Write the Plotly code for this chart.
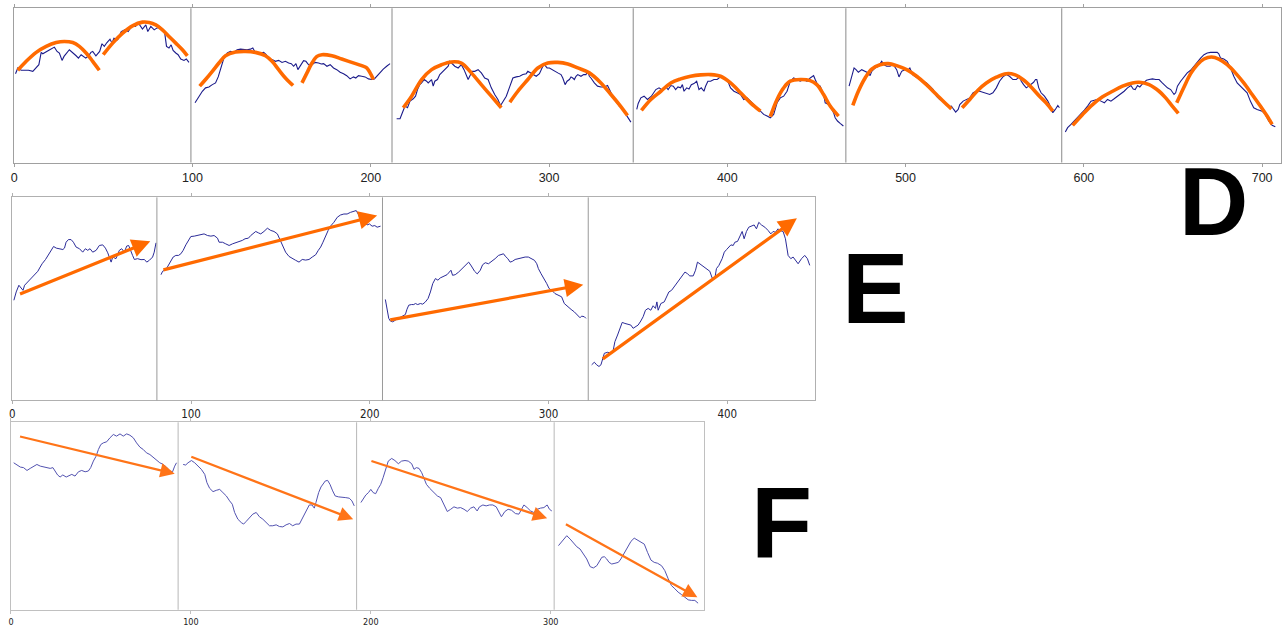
import plotly.graph_objects as go

# ---------------- Panel D : (x, y) points ----------------
D_TICKS = [0, 100, 200, 300, 400, 500, 600, 700]
D_XMAX = 710.6
D_DIVIDERS = [99.1, 211.9, 347.2, 466.5, 587.6]

D_SEG1 = [(0.7,57.6),(2.0,61.3),(3.9,59.8),(8.0,59.8),(10.4,59.1),(11.9,61.3),(13.8,63.4),(15.1,71.4),(16.0,70.5),(19.9,73.1),(22.5,74.8),(24.0,72.0),(25.3,71.0),(26.8,66.2),(27.9,68.8),(30.9,73.1),(32.1,72.0),(34.7,69.2),(36.0,67.7),(37.5,69.9),(40.1,67.7),(41.7,69.2),(43.0,71.4),(44.0,72.0),(45.8,69.2),(47.9,72.0),(49.2,77.0),(50.5,75.3),(52.0,77.8),(53.7,80.0),(54.8,77.4),(55.9,80.6),(58.0,79.6),(60.0,84.9),(61.9,86.0),(63.9,84.9),(66.0,88.6),(68.0,88.2),(69.7,90.3),(71.9,86.5),(73.8,89.2),(74.9,84.9),(76.6,88.2),(78.5,86.0),(79.9,87.1),(81.6,88.2),(83.1,85.6),(84.4,83.9),(85.4,75.3),(86.8,74.2),(88.0,76.3),(89.1,72.7),(90.6,71.0),(91.9,69.9),(93.4,67.1),(95.2,66.2),(96.5,67.1),(98.0,64.9)]
D_SEG2 = [(101.4,38.7),(103.6,43.0),(105.5,46.2),(107.3,48.4),(109.2,49.0),(111.1,50.5),(112.9,51.6),(114.4,55.5),(115.7,60.2),(117.6,67.7),(119.5,71.0),(121.3,72.0),(123.2,71.4),(125.0,73.1),(126.9,73.5),(128.8,73.1),(130.6,73.1),(132.5,73.5),(133.8,74.2),(134.9,72.0),(136.2,71.4),(138.1,71.0),(139.9,71.4),(141.3,69.9),(142.7,67.1),(144.6,66.7),(146.5,65.6),(148.3,66.2),(150.2,64.9),(152.1,65.6),(153.9,64.5),(155.4,64.1),(156.7,62.4),(158.0,64.1),(159.1,60.2),(160.5,62.4),(162.3,66.0),(163.6,65.6),(165.1,63.4),(167.0,63.4),(168.8,64.9),(170.7,64.5),(172.2,63.9),(173.5,64.1),(175.4,62.4),(177.2,63.4),(179.1,61.3),(180.9,60.2),(182.8,58.5),(184.7,57.6),(186.5,56.3),(188.4,54.2),(190.3,55.5),(191.6,54.8),(193.1,56.3),(194.9,55.9),(196.8,55.5),(198.7,54.2),(200.5,53.8),(202.0,54.2),(203.3,55.9),(205.2,58.5),(207.0,60.6),(208.9,62.4),(210.8,64.1)]
D_SEG3 = [(214.5,28.4),(216.4,28.4),(217.7,32.3),(219.2,36.6),(220.6,35.5),(222.0,39.8),(223.8,41.3),(225.1,43.0),(226.2,47.3),(227.5,50.5),(228.5,51.6),(230.0,53.8),(231.3,52.7),(232.2,51.6),(234.1,53.8),(235.0,49.5),(235.9,52.7),(237.4,53.8),(238.7,57.0),(240.6,59.1),(242.5,61.3),(243.4,62.4),(244.3,65.6),(245.2,64.5),(246.2,63.4),(247.1,62.4),(249.0,61.3),(250.8,63.4),(252.3,60.2),(253.6,57.0),(254.6,53.8),(255.5,55.9),(256.8,59.1),(258.3,59.1),(260.2,60.2),(262.0,58.1),(263.9,54.8),(265.8,53.8),(267.6,48.4),(269.5,44.1),(271.3,40.9),(272.8,37.0),(274.1,39.8),(276.0,43.0),(277.9,49.0),(279.7,54.8),(281.6,55.5),(283.5,55.9),(285.3,57.0),(287.2,57.6),(288.1,59.1),(289.6,58.1),(290.9,57.0),(292.8,55.9),(294.6,57.6),(296.5,62.4),(297.4,63.4),(298.9,61.3),(300.2,61.3),(302.1,60.2),(303.4,59.1),(304.9,58.1),(306.7,57.0),(307.7,54.8),(309.0,50.5),(310.1,52.7),(311.4,53.8),(312.3,55.5),(313.3,54.8),(314.2,53.8),(315.1,55.9),(316.1,57.0),(317.9,55.9),(319.4,57.0),(320.7,57.0),(321.7,59.1),(322.6,55.9),(323.5,54.8),(325.4,51.6),(327.2,49.5),(329.1,49.0),(331.0,49.0),(332.8,49.9),(333.8,47.3),(335.1,44.1),(336.6,40.9),(338.1,38.7),(339.4,36.6),(340.7,35.5),(341.8,34.4),(343.1,31.2),(344.4,29.0),(345.9,26.2)]
D_SEG4 = [(349.2,34.4),(350.0,38.3),(351.5,41.9),(353.3,43.0),(355.2,40.9),(357.4,43.0),(359.9,47.3),(361.7,48.4),(363.6,46.9),(365.5,49.0),(366.8,47.3),(368.3,49.9),(369.7,49.5),(371.0,47.3),(372.3,49.0),(373.8,48.4),(374.8,50.5),(375.7,46.2),(377.2,48.4),(378.5,47.7),(379.8,50.5),(381.3,51.2),(382.8,52.7),(384.1,47.3),(385.4,48.4),(386.9,46.2),(387.8,49.5),(389.1,52.7),(390.6,52.7),(392.5,53.8),(394.3,53.8),(396.2,55.5),(398.1,54.8),(399.9,53.8),(401.8,48.4),(403.7,46.2),(405.5,45.2),(407.4,44.1),(409.2,40.9),(411.1,41.9),(413.0,39.8),(414.8,37.6),(416.7,35.5),(418.6,33.3),(420.4,31.2),(422.3,30.1),(424.1,29.0),(426.0,31.2),(427.9,38.7),(429.7,41.9),(431.6,43.0),(433.5,46.2),(435.3,52.7),(437.2,54.8),(439.1,53.8),(440.9,52.7),(442.8,53.8),(444.7,52.7),(446.5,54.8),(448.4,56.3),(449.3,53.8),(450.6,50.5),(452.1,49.5),(454.0,44.1),(454.9,38.7),(456.8,37.6),(458.1,35.5),(459.6,32.3),(460.5,29.0),(461.8,26.9),(463.3,25.4),(465.1,23.7)]
D_SEG5 = [(468.3,49.5),(469.2,53.8),(470.4,59.1),(471.1,61.3),(472.2,60.2),(473.5,58.5),(475.4,60.2),(477.3,59.1),(479.1,58.1),(480.1,56.3),(481.0,59.1),(482.9,61.3),(484.7,62.4),(486.6,65.6),(487.9,63.4),(489.4,62.4),(491.2,62.4),(493.1,63.4),(495.0,60.2),(496.3,55.5),(497.8,59.1),(499.6,60.2),(501.5,60.2),(502.4,61.3),(503.9,57.0),(505.2,55.9),(506.5,54.8),(508.0,53.8),(509.9,52.7),(511.7,51.6),(513.6,49.5),(515.5,47.3),(517.3,43.0),(519.2,40.9),(521.1,39.8),(522.9,37.0),(524.4,36.1),(525.7,36.6),(527.0,34.4),(528.1,32.7),(529.5,34.4),(530.4,37.6),(532.3,39.8),(534.1,40.9),(536.0,41.9),(537.9,45.2),(539.7,46.2),(541.6,46.2),(543.4,45.6),(545.3,45.2),(547.2,44.1),(549.0,45.2),(550.9,48.4),(552.7,52.7),(554.6,55.5),(556.5,57.0),(558.3,55.9),(560.2,53.8),(562.1,53.8),(563.9,55.9),(564.9,52.7),(566.2,50.5),(567.7,48.4),(569.1,49.5),(570.4,50.5),(571.8,52.0),(572.9,53.8),(573.6,53.8),(574.7,48.4),(576.0,45.2),(577.9,43.0),(579.8,39.8),(581.6,35.5),(582.6,32.3),(584.0,34.4),(585.4,37.0),(586.3,35.5)]
D_SEG6 = [(589.6,19.8),(590.9,22.6),(592.8,24.7),(594.7,26.9),(596.5,29.0),(598.4,31.2),(600.3,34.0),(602.1,36.6),(604.0,39.8),(605.9,40.4),(607.7,40.9),(609.6,39.8),(611.5,38.7),(613.3,40.9),(615.2,39.8),(617.0,41.3),(618.9,43.0),(620.8,44.1),(622.6,46.2),(624.5,48.4),(626.4,49.9),(627.7,47.7),(628.8,47.3),(630.1,49.9),(631.4,49.0),(632.5,50.5),(633.8,51.6),(635.1,53.3),(636.6,53.8),(638.5,54.2),(640.3,53.8),(642.2,53.8),(643.7,52.0),(645.0,50.5),(646.9,48.4),(648.7,47.3),(650.6,44.1),(651.5,45.2),(652.5,49.5),(654.3,52.7),(656.2,55.5),(658.0,58.1),(659.9,59.8),(661.8,62.4),(663.6,65.6),(665.5,67.7),(667.4,69.9),(669.2,71.0),(671.1,71.4),(673.0,71.4),(674.8,71.4),(675.7,70.5),(676.7,67.7),(678.5,67.1),(680.4,65.6),(682.3,61.3),(684.1,55.9),(686.0,51.6),(687.8,49.5),(689.7,47.3),(691.6,45.2),(693.4,39.8),(695.3,35.5),(697.2,34.4),(700.0,33.3),(701.8,31.2),(703.7,26.9),(705.6,24.1),(707.4,23.2)]

D_ARC1 = [(2.0,59.8),(6.7,65.6),(12.3,71.4),(17.9,75.3),(23.5,77.8),(28.1,78.5),(32.8,77.8),(36.5,75.3),(40.3,71.0),(44.0,65.6),(47.7,59.8)]
D_ARC2 = [(49.9,69.9),(55.2,77.4),(60.8,83.9),(66.3,88.6),(71.9,91.0),(75.7,90.8),(79.4,89.2),(83.1,86.0),(86.8,81.7),(90.6,77.4),(94.3,73.1),(97.1,69.2)]
D_ARC3 = [(104.0,49.5),(107.3,53.8),(111.1,59.1),(114.8,64.5),(118.5,69.2),(124.1,71.6),(129.7,72.0),(135.3,71.4),(140.9,69.2),(144.6,65.6),(148.3,60.2),(152.1,54.8),(156.4,49.9)]
D_ARC4 = [(161.4,51.6),(164.2,58.1),(167.0,64.5),(169.8,68.8),(172.6,69.9),(178.2,69.2),(183.7,67.1),(189.3,64.9),(194.9,62.8),(197.7,61.3),(199.6,58.1),(201.5,53.8)]
D_ARC5 = [(218.2,35.5),(222.9,43.0),(228.5,53.8),(234.1,60.2),(239.7,63.4),(245.2,65.2),(250.8,64.5),(256.4,58.1),(262.0,50.5),(267.6,43.0),(273.2,35.5)]
D_ARC6 = [(278.0,39.1),(282.5,46.2),(288.1,53.8),(293.7,61.3),(299.3,64.5),(304.9,64.9),(310.5,63.9),(316.1,61.3),(322.6,58.1),(329.1,51.6),(334.7,44.1),(339.4,37.6),(344.0,30.5)]
D_ARC7 = [(351.8,33.8),(357.1,40.9),(362.7,46.2),(368.3,51.6),(373.8,54.2),(379.4,55.9),(385.0,56.8),(390.6,57.0),(396.2,55.9),(401.8,51.6),(407.4,45.2),(413.0,38.7),(418.6,33.3)]
D_ARC8 = [(424.1,29.7),(427.9,40.9),(431.6,48.4),(435.3,52.7),(440.9,53.8),(446.5,53.1),(450.2,50.5),(454.0,44.1),(457.7,36.6),(462.4,30.1)]
D_ARC9 = [(470.4,37.0),(473.5,46.2),(477.3,54.8),(481.0,60.6),(485.7,63.4),(490.3,64.1),(495.0,62.8),(500.6,60.2),(506.2,55.9),(511.7,50.5),(517.3,44.1),(522.0,38.7),(525.7,34.8)]
D_ARC10 = [(531.7,35.5),(536.0,40.9),(540.6,46.9),(545.3,51.6),(550.9,55.3),(556.5,57.6),(561.1,57.0),(565.8,53.8),(570.4,49.0),(575.1,43.0),(578.8,38.7),(582.6,33.3)]
D_ARC11 = [(593.7,24.1),(599.3,31.2),(604.9,37.6),(610.5,42.6),(616.1,46.2),(621.7,49.5),(627.3,51.6),(631.0,52.0),(636.6,50.5),(642.2,46.2),(645.9,41.9),(649.6,36.6),(653.0,31.8)]
D_ARC12 = [(652.1,38.7),(656.2,49.0),(659.9,57.6),(663.6,63.4),(667.4,67.1),(671.6,68.4),(675.7,67.1),(680.4,63.4),(685.0,58.1),(689.7,51.6),(694.4,44.1),(699.0,36.6),(702.8,30.1),(705.6,24.7)]

# ---------------- Panel E ----------------
E_TICKS = [0, 100, 200, 300, 400]
E_XMAX = 449.1
E_DIVIDERS = [80.9, 207.1, 322.2]

E_SEG1 = [(0.9,49.3),(2.2,53.4),(3.7,56.7),(5.0,55.1),(6.0,54.2),(6.9,56.7),(8.7,58.3),(10.6,60.3),(12.5,61.9),(14.3,63.6),(15.3,65.2),(16.7,67.3),(18.6,69.4),(19.9,71.4),(21.8,73.9),(23.1,75.8),(24.6,75.0),(26.4,74.7),(28.3,74.3),(29.2,75.0),(30.1,77.9),(31.4,79.2),(32.9,79.2),(34.2,77.9),(35.7,75.5),(37.6,74.7),(39.4,73.0),(40.9,74.7),(42.2,73.9),(43.5,74.7),(45.0,73.0),(46.9,73.9),(48.7,76.3),(50.6,76.6),(52.1,75.0),(53.4,72.7),(54.3,70.6),(55.3,68.1),(56.2,70.6),(58.0,69.8),(59.9,73.9),(61.2,74.7),(62.7,73.0),(64.0,76.0),(65.1,76.3),(66.4,73.9),(67.3,71.4),(68.3,69.4),(70.1,69.8),(72.0,69.3),(73.9,69.4),(75.2,68.1),(76.7,69.0),(78.5,70.6),(79.4,73.0),(80.4,77.6)]
E_SEG2 = [(83.2,61.9),(84.1,63.6),(86.0,64.5),(87.3,66.5),(88.7,68.5),(90.0,70.6),(91.5,71.4),(93.0,71.4),(94.3,72.2),(95.6,73.9),(97.1,76.6),(98.6,78.8),(99.9,80.7),(101.8,80.9),(103.6,81.2),(105.5,81.5),(107.3,82.0),(109.2,81.2),(111.1,80.9),(112.9,81.2),(114.8,79.9),(115.7,77.9),(117.6,77.9),(119.4,77.1),(121.3,76.3),(123.2,77.1),(125.0,77.6),(126.9,78.3),(128.7,78.8),(130.2,79.6),(132.1,79.9),(133.4,81.2),(134.7,82.0),(136.2,83.2),(137.7,82.5),(139.0,82.0),(140.8,83.2),(142.7,84.8),(144.6,83.7),(146.4,83.2),(148.3,82.0),(149.6,79.6),(151.1,76.0),(152.9,73.0),(154.8,70.9),(156.7,70.1),(158.5,69.0),(160.4,68.1),(162.2,69.4),(164.1,69.1),(166.0,69.4),(167.8,70.6),(169.7,71.7),(171.2,73.9),(172.5,75.5),(173.8,77.9),(175.3,81.2),(176.7,83.7),(178.0,85.8),(179.9,87.7),(181.8,90.2),(183.6,91.3),(185.5,91.8),(187.3,91.8),(189.2,92.6),(191.1,93.0),(192.4,93.5),(193.5,91.8),(194.8,89.4),(196.1,86.4),(197.2,87.7),(198.5,86.4),(199.8,86.9),(201.3,85.8),(202.8,86.1),(204.1,85.3),(206.0,85.8)]
E_SEG3 = [(208.7,49.7),(209.7,45.3),(210.6,40.4),(211.5,39.1),(212.8,38.7),(214.3,39.5),(216.2,40.4),(218.0,41.2),(219.9,42.3),(220.8,44.9),(221.8,46.9),(223.3,47.2),(224.6,47.2),(225.5,47.7),(226.8,47.2),(228.3,47.7),(229.6,47.4),(231.1,48.5),(232.6,50.2),(233.9,53.4),(235.2,57.5),(236.7,60.0),(238.1,59.2),(239.4,60.3),(241.3,61.3),(243.2,61.9),(244.5,63.2),(245.4,64.1),(246.3,61.6),(247.8,61.9),(249.7,63.2),(251.5,64.9),(253.4,66.8),(255.3,68.1),(256.8,66.2),(258.6,63.6),(260.1,62.3),(261.8,64.1),(263.1,66.8),(264.6,67.8),(266.4,67.3),(268.3,68.5),(270.1,69.8),(272.0,71.4),(273.5,71.7),(274.8,72.2),(275.7,71.1),(277.2,69.8),(278.5,68.1),(279.8,68.5),(281.3,69.4),(283.2,69.8),(285.0,70.1),(286.9,70.6),(288.7,70.6),(290.2,69.8),(292.1,69.0),(293.4,67.3),(294.3,64.9),(295.8,62.4),(297.3,60.3),(299.0,57.5),(300.3,55.1),(301.8,54.2),(303.6,52.6),(305.5,51.8),(307.3,51.0),(308.8,47.7),(310.7,46.1),(312.6,44.8),(314.4,43.6),(316.3,42.0),(317.6,40.7),(318.5,41.5),(320.0,41.2),(320.9,40.4)]
E_SEG4 = [(324.1,17.5),(325.6,18.8),(326.9,17.5),(328.2,16.7),(329.3,17.5),(330.1,19.9),(331.2,23.2),(333.1,23.7),(334.9,23.2),(336.2,24.8),(337.1,28.9),(338.6,32.2),(339.9,35.5),(341.2,38.4),(342.7,37.9),(344.6,37.4),(346.0,37.1),(347.3,35.5),(348.7,36.3),(350.1,37.1),(351.6,39.1),(352.9,41.2),(354.2,44.4),(355.7,45.3),(357.2,44.4),(358.5,46.6),(359.8,45.3),(360.6,48.5),(361.3,44.4),(362.8,47.7),(364.7,48.5),(366.0,51.0),(367.3,53.4),(368.8,54.2),(370.3,55.9),(371.6,57.5),(372.9,59.2),(374.8,61.3),(376.3,63.2),(377.7,62.4),(379.0,61.3),(380.9,61.3),(382.2,64.1),(383.3,68.1),(384.6,67.3),(386.5,66.2),(388.3,65.2),(390.2,63.6),(391.5,60.3),(393.0,60.0),(393.9,64.9),(395.3,66.5),(397.1,69.8),(398.3,73.0),(399.6,74.3),(400.9,75.5),(402.0,76.6),(403.3,76.3),(404.2,77.9),(405.7,78.3),(407.0,81.2),(408.3,83.2),(409.4,79.6),(410.7,83.2),(412.0,85.3),(413.5,85.8),(415.0,86.4),(416.3,84.5),(417.6,87.7),(419.1,86.4),(421.0,85.3),(422.8,83.7),(424.3,82.0),(425.6,83.2),(426.9,82.8),(428.4,84.5),(429.3,83.7),(431.2,83.2),(432.5,79.6),(434.0,71.4),(435.5,69.8),(436.8,70.6),(438.1,69.0),(439.6,67.3),(441.5,69.8),(443.3,71.4),(444.8,69.8),(446.1,66.5)]

# trend arrows: (tail_x, tail_y, head_x, head_y)
E_ARROWS = [(3.5,52.1,77.2,78.4),(83.7,64.1,204.1,91.0),(210.6,39.5,319.4,57.0),(329.5,19.9,438.9,89.7)]

# ---------------- Panel F ----------------
F_TICKS = [0, 100, 200, 300]
F_XMAX = 385.0
F_DIVIDERS = [92.9, 192.1, 301.9]

F_SEG1 = [(1.5,78.4),(3.3,77.5),(5.2,76.1),(7.0,75.8),(8.9,74.3),(10.7,75.4),(12.6,76.6),(14.4,77.5),(16.3,76.6),(18.1,76.1),(19.9,75.8),(21.8,75.4),(23.3,75.8),(24.6,74.0),(25.9,71.9),(27.3,70.8),(28.8,71.9),(30.7,70.8),(31.9,71.3),(33.8,72.2),(35.6,71.3),(37.5,73.6),(39.3,74.3),(41.2,73.6),(43.0,74.0),(44.3,75.8),(45.8,79.3),(47.3,81.9),(48.6,85.5),(49.9,88.1),(51.3,89.0),(53.2,89.6),(55.0,91.7),(56.9,93.5),(58.7,92.6),(60.6,93.8),(62.4,92.6),(64.3,93.8),(66.1,93.1),(68.0,91.7),(69.8,89.0),(71.7,86.7),(73.5,85.5),(75.3,83.7),(77.2,82.8),(79.0,81.4),(80.9,79.6),(82.7,78.4),(84.6,77.5),(86.4,76.1),(88.3,74.0),(89.8,73.6),(91.0,76.6),(92.0,78.4)]
F_SEG2 = [(95.7,77.5),(97.1,77.2),(98.4,78.4),(100.3,79.6),(102.1,78.4),(104.0,76.6),(105.8,74.9),(107.7,72.2),(108.9,67.8),(110.4,64.8),(112.3,63.0),(114.1,63.7),(116.0,64.2),(117.8,62.5),(119.7,60.7),(121.5,58.1),(123.0,56.3),(124.3,51.9),(126.1,48.3),(128.0,46.5),(129.3,45.7),(130.7,47.1),(132.6,49.2),(134.4,51.0),(136.3,51.9),(138.1,49.6),(140.0,48.3),(141.8,46.5),(143.7,44.8),(145.5,44.8),(147.4,45.3),(149.2,44.4),(151.1,44.2),(152.9,45.3),(154.8,46.0),(156.6,44.8),(158.4,45.7),(160.3,45.7),(161.8,48.3),(163.1,51.0),(164.4,53.1),(165.8,55.9),(167.3,55.9),(168.6,54.2),(169.5,57.2),(171.0,62.5),(172.3,65.5),(173.6,67.3),(174.7,68.7),(176.0,69.0),(177.3,66.9),(178.8,63.4),(180.2,60.7),(182.1,60.2),(183.9,60.2),(186.1,59.8),(188.0,59.5),(189.5,58.1),(190.8,55.4)]
F_SEG3 = [(194.5,57.2),(195.7,58.9),(197.2,61.2),(198.7,62.5),(200.0,64.2),(201.3,62.5),(202.7,61.9),(204.2,64.8),(205.5,66.9),(206.8,70.4),(208.3,74.9),(209.7,79.3),(211.6,80.7),(213.4,79.6),(215.3,77.9),(217.1,79.3),(219.0,79.6),(220.8,79.3),(222.7,77.9),(224.0,74.9),(225.3,75.8),(226.8,75.4),(228.3,73.1),(229.6,69.6),(230.9,66.9),(232.7,64.8),(234.6,63.0),(237.0,60.7),(238.8,59.8),(240.1,57.2),(241.2,54.5),(242.5,52.4),(244.4,53.6),(246.2,54.9),(248.1,54.2),(249.9,54.5),(251.8,53.6),(253.6,52.4),(255.5,54.2),(257.3,54.9),(259.1,52.7),(260.4,54.9),(262.3,55.9),(264.1,55.4),(266.0,55.9),(267.8,55.9),(269.7,54.9),(271.1,52.7),(272.6,49.6),(274.5,52.4),(276.3,53.6),(278.2,53.1),(280.4,51.3),(282.3,51.0),(283.7,53.1),(285.1,55.9),(286.9,54.5),(288.8,52.7),(290.6,51.9),(292.5,53.6),(294.3,54.2),(296.2,54.5),(298.0,55.9),(299.3,53.6),(300.6,52.7)]
F_SEG4 = [(304.3,34.2),(305.8,35.9),(307.6,37.7),(308.9,39.5),(310.8,37.7),(312.6,35.4),(314.5,33.6),(316.3,32.4),(318.2,29.7),(320.0,27.1),(321.9,23.0),(323.7,22.3),(325.6,23.5),(326.9,25.3),(328.4,28.0),(329.8,28.3),(331.1,27.1),(332.4,25.3),(333.9,24.4),(335.7,24.8),(337.6,25.3),(339.0,27.1),(340.9,30.1),(342.7,33.6),(344.6,36.5),(346.4,38.2),(348.3,37.2),(350.1,35.9),(352.0,35.0),(353.8,30.6),(355.7,26.5),(357.5,25.3),(359.4,24.8),(361.6,23.5),(363.4,20.9),(365.3,16.5),(367.1,12.9),(369.0,11.2),(370.8,9.4),(372.7,8.1),(374.5,6.7),(376.4,5.3),(378.2,5.0),(380.1,5.0),(381.9,3.5)]

F_ARROWS = [(4.2,92.6,91.0,72.6),(99.4,81.9,190.2,48.3),(199.5,79.6,298.0,48.8),(307.6,46.0,381.5,6.7)]

# ---------------- styling ----------------
W, H = 1286, 627
ORANGE = "#FF6A00"
PANELS = {
    # name: (left_px, right_px, top_px, bottom_px)
    "D": (11.3, 1281.0, 8.3, 163.3),
    "E": (9.3, 814.0, 198.3, 402.3),
    "F": (8.0, 702.3, 424.3, 612.7),
}

def xdom(p):
    l, r, t, b = PANELS[p]
    return [l / W, r / W]

def ydom(p):
    l, r, t, b = PANELS[p]
    return [1 - b / H, 1 - t / H]

fig = go.Figure()

def add_line(pts, xa, ya, color, width, spline=False):
    fig.add_trace(go.Scatter(
        x=[p[0] for p in pts], y=[p[1] for p in pts], xaxis=xa, yaxis=ya,
        mode="lines", line=dict(color=color, width=width, shape="spline" if spline else "linear", smoothing=1.0),
        hoverinfo="skip", showlegend=False))

for seg in [D_SEG1, D_SEG2, D_SEG3, D_SEG4, D_SEG5, D_SEG6]:
    add_line(seg, "x", "y", "#1b1b8a", 1.1)
for arc in [D_ARC1, D_ARC2, D_ARC3, D_ARC4, D_ARC5, D_ARC6, D_ARC7, D_ARC8, D_ARC9, D_ARC10, D_ARC11, D_ARC12]:
    add_line(arc, "x", "y", ORANGE, 3.6, spline=True)
for seg in [E_SEG1, E_SEG2, E_SEG3, E_SEG4]:
    add_line(seg, "x2", "y2", "#2b2b98", 1.0)
for seg in [F_SEG1, F_SEG2, F_SEG3, F_SEG4]:
    add_line(seg, "x3", "y3", "#5252b0", 1.0)

annotations = []
for (tx, ty, hx, hy) in E_ARROWS:
    annotations.append(dict(x=hx, y=hy, ax=tx, ay=ty, xref="x2", yref="y2", axref="x2", ayref="y2",
                            text="", showarrow=True, arrowhead=2, arrowsize=1.15, arrowwidth=3.2,
                            arrowcolor=ORANGE, standoff=0, startstandoff=0))
for (tx, ty, hx, hy) in F_ARROWS:
    annotations.append(dict(x=hx, y=hy, ax=tx, ay=ty, xref="x3", yref="y3", axref="x3", ayref="y3",
                            text="", showarrow=True, arrowhead=2, arrowsize=1.25, arrowwidth=2.3,
                            arrowcolor="#FF7418", standoff=0, startstandoff=0))

LETTER_FONT = "Liberation Sans, Arial, Helvetica, sans-serif"
for letter, cx, cy, size in [("D", 1213, 202, 96), ("E", 875, 289, 100), ("F", 780, 525, 100)]:
    annotations.append(dict(text="<b>%s</b>" % letter, x=cx / W, y=1 - cy / H, xref="paper", yref="paper",
                            xanchor="center", yanchor="middle", showarrow=False,
                            font=dict(family=LETTER_FONT, size=size, color="black")))

shapes = []
for xa, ya, divs, col in [("x", "y", D_DIVIDERS, "#8a8a8a"), ("x2", "y2", E_DIVIDERS, "#9a9a9a"), ("x3", "y3", F_DIVIDERS, "#b8b8b8")]:
    for d in divs:
        shapes.append(dict(type="line", xref=xa, yref=ya + " domain", x0=d, x1=d, y0=0, y1=1,
                           line=dict(color=col, width=1)))

def xaxis_cfg(p, xmax, ticks, font, size, linecol):
    return dict(domain=xdom(p), range=[0, xmax], tickvals=ticks, showgrid=False, zeroline=False,
                showline=True, linecolor=linecol, linewidth=1, mirror="ticks", ticks="outside",
                ticklen=3, tickcolor=linecol, tickfont=dict(family=font, size=size, color="#222222"),
                fixedrange=True)

def yaxis_cfg(p, anchor, linecol):
    return dict(domain=ydom(p), range=[0, 100], anchor=anchor, showgrid=False, zeroline=False,
                showticklabels=False, ticks="", showline=True, linecolor=linecol, linewidth=1,
                mirror=True, fixedrange=True)

NARROW = "Liberation Sans Narrow, Arial Narrow, DejaVu Sans Condensed, sans-serif"
fig.update_layout(
    width=W, height=H, margin=dict(l=0, r=0, t=0, b=0),
    paper_bgcolor="white", plot_bgcolor="white", showlegend=False,
    xaxis=dict(xaxis_cfg("D", D_XMAX, D_TICKS, "Liberation Sans, Arial, sans-serif", 12.5, "#a0a0a0"), anchor="y"),
    yaxis=yaxis_cfg("D", "x", "#a0a0a0"),
    xaxis2=dict(xaxis_cfg("E", E_XMAX, E_TICKS, NARROW, 11.5, "#b0b0b0"), anchor="y2"),
    yaxis2=yaxis_cfg("E", "x2", "#b0b0b0"),
    xaxis3=dict(xaxis_cfg("F", F_XMAX, F_TICKS, NARROW, 9, "#c0c0c0"), anchor="y3"),
    yaxis3=yaxis_cfg("F", "x3", "#c0c0c0"),
    annotations=annotations, shapes=shapes,
)

# remove the page's default body margin so the figure sits at the window's top-left corner
fig.write_html("out.html", config={"displayModeBar": False},
               post_script="document.body.style.margin='0px';document.body.style.overflow='hidden';")
